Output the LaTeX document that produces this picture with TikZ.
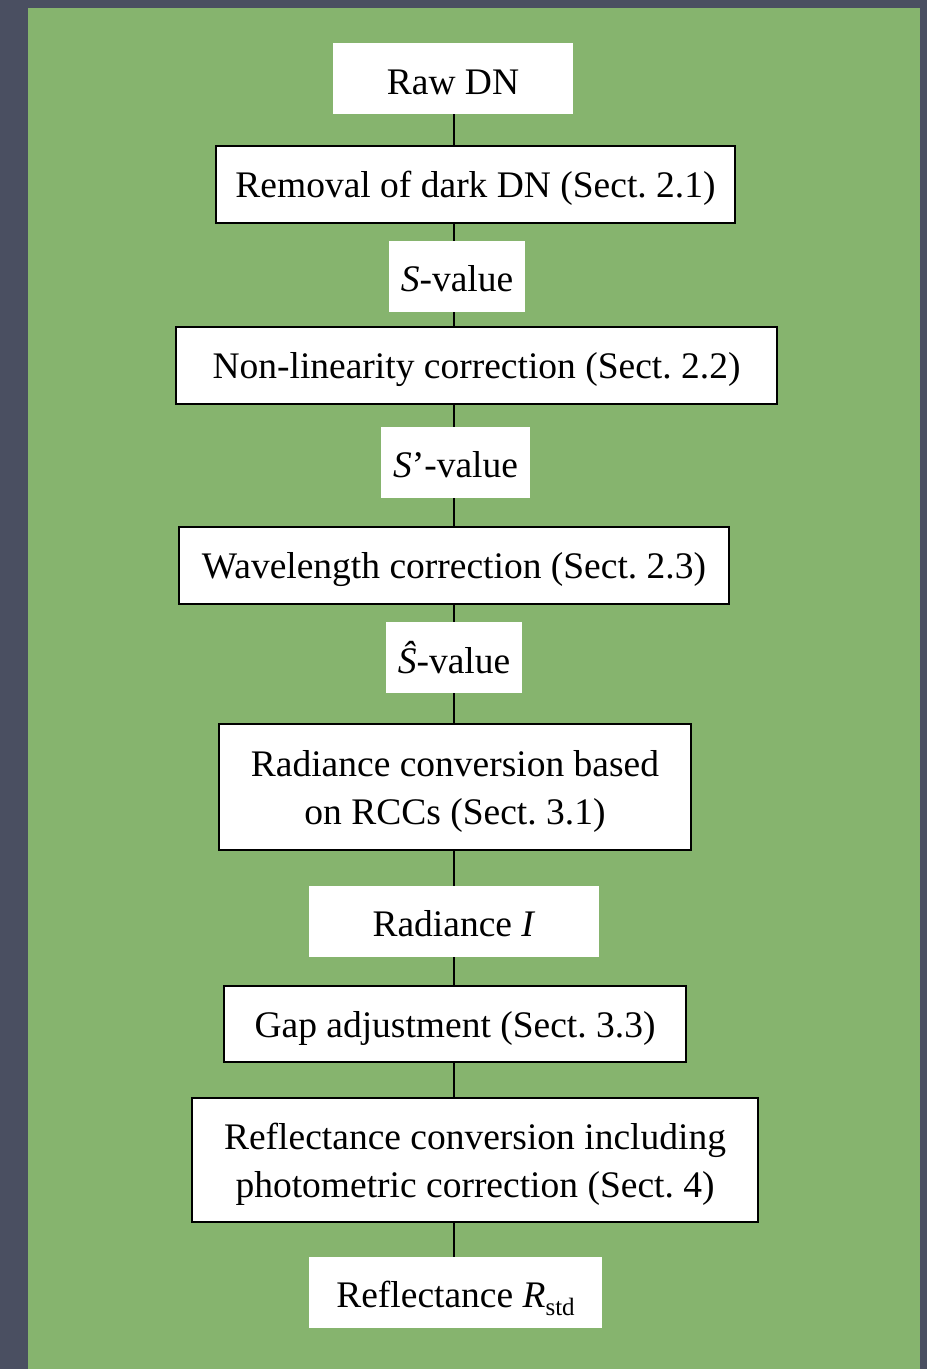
\documentclass[tikz,border=0pt]{standalone}
\usepackage{fontspec}
\setmainfont{Liberation Serif}
\frenchspacing
\definecolor{bggrey}{RGB}{74,79,97}
\definecolor{panelgreen}{RGB}{134,180,110}
\tikzset{
  lab/.style={fill=white, inner sep=0pt, align=center, text depth=0pt, font=\fontsize{37.5}{48}\selectfont},
  stepbox/.style={lab, draw=black, line width=2.6pt},
  conn/.style={line width=2.6pt, black}
}
\begin{document}
\begin{tikzpicture}[x=1pt,y=-1pt]
\fill[bggrey] (0,0) rectangle (927,1369);
\useasboundingbox (0,0) rectangle (927,1369);
\fill[panelgreen] (28,8) rectangle (920,1369);
\coordinate (spine) at (454,0);

\node[lab, minimum width=240pt, minimum height=71pt, text height=32pt] (raw) at (453,78.5) {Raw DN};
\node[stepbox, minimum width=519pt, minimum height=77pt] (dark) at (475.5,184.5) {Removal of dark DN (Sect. 2.1)};
\node[lab, minimum width=136pt, minimum height=71pt, text height=29pt] (sval) at (457,276.5) {\textit{S}-value};
\node[stepbox, minimum width=601pt, minimum height=77pt] (nonlin) at (476.5,365.5) {Non-linearity correction (Sect. 2.2)};
\node[lab, minimum width=149pt, minimum height=71pt, text height=29pt] (spval) at (455.5,462.5) {\textit{S}’-value};
\node[stepbox, minimum width=550pt, minimum height=77pt] (wave) at (454,565.5) {Wavelength correction (Sect. 2.3)};
\node[lab, minimum width=136pt, minimum height=71pt] (shval) at (454,657.5) {\textit{Ŝ}-value};
\node[stepbox, minimum width=472pt, minimum height=126pt] (rcc) at (455,787) {Radiance conversion based\\on RCCs (Sect. 3.1)};
\node[lab, minimum width=290pt, minimum height=71pt, text height=29pt] (rad) at (454,921.5) {Radiance \textit{I}};
\node[stepbox, minimum width=462pt, minimum height=76pt] (gap) at (455,1024) {Gap adjustment (Sect. 3.3)};
\node[stepbox, minimum width=566pt, minimum height=124pt] (refl) at (475,1160) {Reflectance conversion including\\photometric correction (Sect. 4)};
\node[lab, minimum width=293pt, minimum height=71pt, text height=29pt] (rstd) at (455.5,1292.5) {Reflectance \textit{R}\raisebox{-0.22em}{\fontsize{25}{27}\selectfont std}};

\foreach \a/\b in {raw/dark, dark/sval, sval/nonlin, nonlin/spval, spval/wave, wave/shval, shval/rcc, rcc/rad, rad/gap, gap/refl, refl/rstd}{
  \draw[conn] (\a.south -| spine) -- (\b.north -| spine);
}
\end{tikzpicture}
\end{document}
